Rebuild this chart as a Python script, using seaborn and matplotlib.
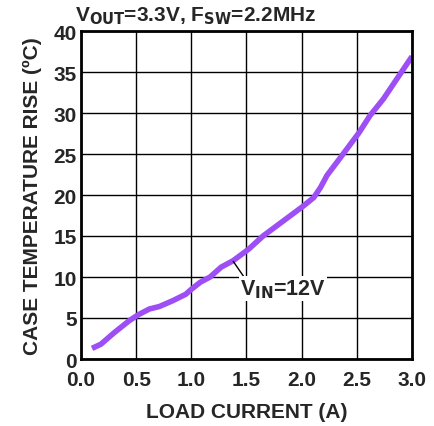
import matplotlib
matplotlib.use("Agg")
import matplotlib.pyplot as plt
import seaborn as sns
import pandas as pd

# curve
load_current = [0.10, 0.18, 0.30, 0.44, 0.52, 0.62, 0.71, 0.83, 0.95, 1.00, 1.08,
                1.17, 1.27, 1.38, 1.52, 1.65, 1.80, 1.92, 2.01, 2.11, 2.17, 2.23,
                2.32, 2.42, 2.52, 2.62, 2.74, 2.86, 3.00]
temp_rise = [1.3, 1.8, 3.2, 4.7, 5.4, 6.1, 6.4, 7.1, 7.9, 8.5, 9.35,
             10.0, 11.2, 12.0, 13.4, 15.0, 16.5, 17.7, 18.6, 19.7, 20.9, 22.4,
             24.0, 25.8, 27.6, 29.7, 31.7, 34.1, 36.9]
x_ticks = [0.0, 0.5, 1.0, 1.5, 2.0, 2.5, 3.0]
y_ticks = [0, 5, 10, 15, 20, 25, 30, 35, 40]

df = pd.DataFrame({"current": load_current, "rise": temp_rise})

sns.set_style("white")
plt.rcParams["font.family"] = ["Liberation Sans", "DejaVu Sans"]
plt.rcParams["font.weight"] = "bold"

fig = plt.figure(figsize=(4.35, 4.27), dpi=100)
ax = fig.add_axes([81 / 435, 1 - 360 / 427, 331 / 435, 328 / 427])

sns.lineplot(data=df, x="current", y="rise", ax=ax, color="#9d4ff5",
             linewidth=4, solid_capstyle="butt")

ax.set_xlim(0, 3.0)
ax.set_ylim(0, 40)
ax.set_xticks(x_ticks)
ax.set_yticks(y_ticks)
ax.set_xticklabels([f"{t:.1f}" for t in x_ticks], fontsize=15, fontweight="bold")
ax.set_yticklabels([str(t) for t in y_ticks], fontsize=15, fontweight="bold")
ax.tick_params(axis="x", length=0, pad=8)
ax.tick_params(axis="y", length=0, pad=3)
ax.grid(True, color="black", linewidth=1)
for s in ax.spines.values():
    s.set_color("black")
    s.set_linewidth(2)

ax.set_xlabel("LOAD CURRENT (A)", fontsize=15, fontweight="bold", labelpad=9)
ax.set_ylabel("CASE TEMPERATURE RISE (ºC)", fontsize=15, fontweight="bold", labelpad=8)

fig.text(75 / 435, 1 - 21 / 427, r"V$_{\mathbf{OUT}}$=3.3V, F$_{\mathbf{SW}}$=2.2MHz",
         fontsize=15, fontweight="bold", ha="left", va="baseline")

ax.annotate(r"V$_{\mathbf{IN}}$=12V", xy=(1.38, 11.9), xytext=(1.44, 7.9),
            fontsize=15.5, fontweight="bold", ha="left", va="baseline",
            bbox=dict(boxstyle="square,pad=0.05", fc="white", ec="none"),
            arrowprops=dict(arrowstyle="-", color="black", lw=1,
                            shrinkA=0, shrinkB=0, relpos=(0.05, 1.0)))

fig.savefig("out.png", dpi=100)
